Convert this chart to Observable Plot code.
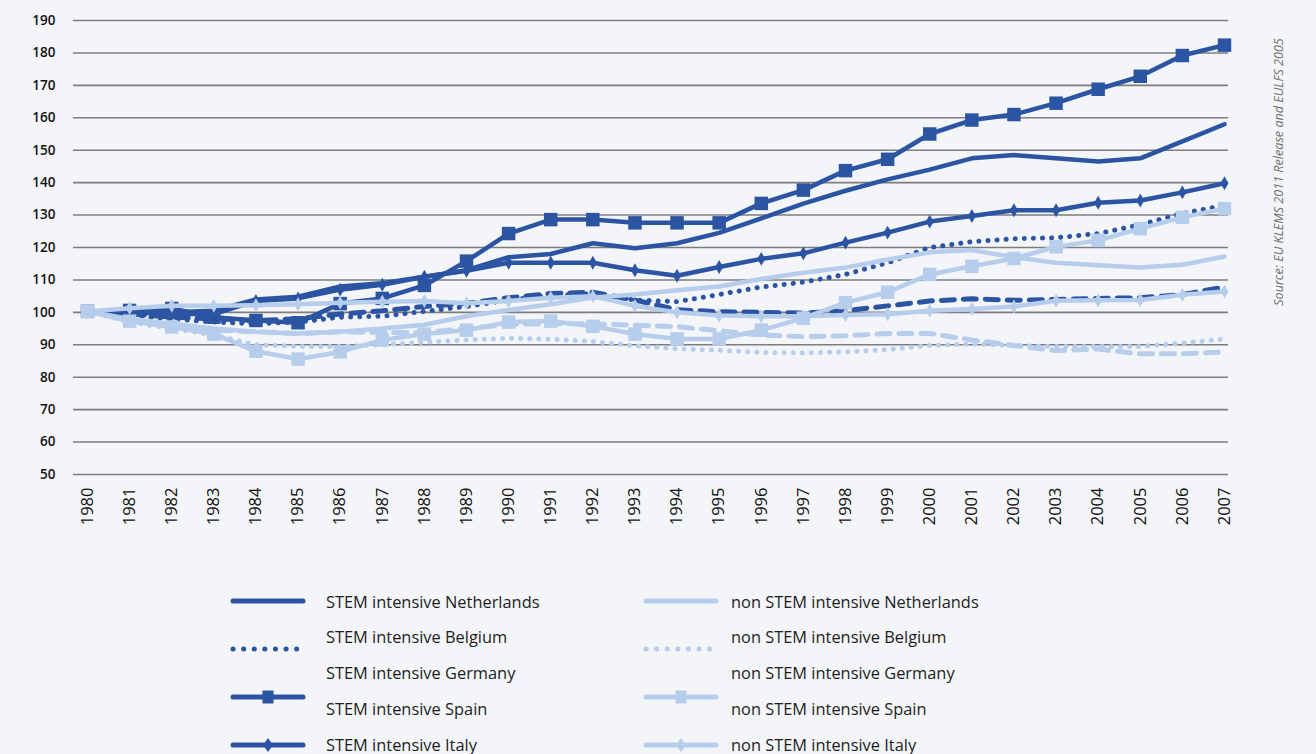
<!DOCTYPE html>
<html><head><meta charset="utf-8">
<script src="https://cdn.jsdelivr.net/npm/d3@7"></script>
<script src="https://cdn.jsdelivr.net/npm/@observablehq/plot@0.6"></script>
<style>
html,body{margin:0;padding:0;background:#f4f5f9;}
#wrap{position:relative;width:1316px;height:754px;overflow:hidden;background:#f4f5f9;font-family:"Open Sans",Lato,sans-serif;}
#chart{position:absolute;left:0;top:0;}
.lg{position:absolute;font-size:16.4px;color:#1d1d1d;white-space:nowrap;transform:translateY(-50%);}
.sym{position:absolute;}
#source{position:absolute;left:1278px;top:172px;transform:translate(-50%,-50%) rotate(-90deg);font-size:12.6px;font-style:italic;color:#6f6f6f;white-space:nowrap;}
</style></head><body><div id="wrap"><div id="chart"></div><div id="source">Source: EU KLEMS 2011 Release and EULFS 2005</div></div>
<script>
const years = [1980,1981,1982,1983,1984,1985,1986,1987,1988,1989,1990,1991,1992,1993,1994,1995,1996,1997,1998,1999,2000,2001,2002,2003,2004,2005,2006,2007];
const yTicks = [50,60,70,80,90,100,110,120,130,140,150,160,170,180,190];

const stemNetherlands = [100.3,100,100,100.5,104,104.8,108,109,111,113,117,118,121.3,119.8,121.3,124.5,129,133.5,137.5,141,144,147.5,148.5,147.5,146.5,147.5,152.7,158];
const stemBelgium     = [100.3,99,98,97,96.5,97,98.5,98.8,100.3,101.8,103.8,105.3,105.7,103.8,103.3,105.5,107.8,109.3,111.7,115.3,120,121.8,122.7,123,124.3,127,130.5,133];
const stemGermany     = [100.3,99.5,98.5,98,97.5,98,99.5,100.5,101.8,102.8,104.5,105.8,106.2,103.8,100.8,100.2,100,99.8,100.5,102,103.5,104.2,103.7,104,104.3,104.5,105.5,107.8];
const stemSpain       = [100.3,100.6,101.2,98.5,97.5,96.8,102.7,104.3,108.3,115.8,124.3,128.6,128.6,127.6,127.6,127.6,133.6,137.7,143.7,147.2,155,159.3,161,164.5,168.8,172.8,179.2,182.4];
const stemItaly       = [100.3,100,99.5,99.5,103.5,104.3,107,108.5,111,112.8,115.3,115.3,115.3,113,111.3,114,116.5,118.2,121.5,124.6,128,129.7,131.5,131.5,133.8,134.5,137,139.8];

const nonNetherlands  = [100.3,98,96.5,95,94,93.5,94,95,96.2,98.8,100.7,102.5,104.6,105.5,106.8,108,110.3,112.2,113.8,116.3,118.5,119.2,117,115.3,114.5,113.8,114.7,117.2];
const nonBelgium      = [100.3,97,95,93,90,89.5,89.5,90,90.8,91.5,92,91.7,91,89.7,88.8,88.3,87.6,87.5,87.8,88.5,89.8,90.2,89.8,89.5,89.5,89.5,90.5,91.8];
const nonGermany      = [100.3,97.5,96,94.5,94,93.5,94,93.8,93.8,95,96.3,96.5,96.5,96,95.6,94.3,93,92.5,92.8,93.5,93.5,91.5,89.8,88.2,88.7,87.2,87.2,87.8];
const nonSpain        = [100.3,97.3,95.5,93.3,88,85.6,87.8,91.5,93.3,94.5,97,97.3,95.7,93.3,91.8,91.8,94.5,98.2,103,106.2,111.7,114.2,116.6,120.2,122.2,125.8,129.3,132];
const nonItaly        = [100.3,101.3,102,102,102.2,102.5,103,103.3,103.5,102.8,103.5,104.5,105,102,100,99,98.8,98.8,99.2,99.4,100.5,101,101.8,103.6,103.7,103.8,105.4,106.4];

const DARK = "#2b54a3", LIGHT = "#b6cdec";
const seriesNames = ["Netherlands","Belgium","Germany","Spain","Italy"];
const stemValues = [stemNetherlands, stemBelgium, stemGermany, stemSpain, stemItaly];
const nonValues = [nonNetherlands, nonBelgium, nonGermany, nonSpain, nonItaly];
const styles = {
  Netherlands: {dash: null, marker: null},
  Belgium: {dash: "0.1 9", marker: null},
  Germany: {dash: "13 9", marker: null},
  Spain: {dash: null, marker: "square"},
  Italy: {dash: null, marker: "diamond"}
};

function rows(vals){ return years.map((y,i)=>({year:y, value:vals[i]})); }

const marks = [Plot.ruleY(yTicks, {stroke:"#7d7d7d", strokeWidth:1.6})];
function addSeries(valsList, color){
  seriesNames.forEach((name,k)=>{
    const st = styles[name];
    const data = rows(valsList[k]);
    const opts = {x:"year", y:"value", stroke:color, strokeWidth: st.dash ? 5 : 4.5, strokeLinecap:"round", strokeLinejoin:"round"};
    if (st.dash) opts.strokeDasharray = st.dash;
    marks.push(Plot.line(data, opts));
    if (st.marker === "square") marks.push(Plot.dot(data, {x:"year", y:"value", symbol:"square", r:7.6, fill:color, stroke:"none"}));
    if (st.marker === "diamond") marks.push(Plot.dot(data, {x:"year", y:"value", symbol:"diamond", r:4.2, fill:color, stroke:"none"}));
  });
}
addSeries(stemValues, DARK);
addSeries(nonValues, LIGHT);

marks.push(Plot.axisY({ticks: yTicks, label:null, tickSize:0, tickPadding:18, fontSize:13.5, fontWeight:600, fill:"#111"}));
marks.push(Plot.axisX({ticks: years, label:null, tickFormat: d=>String(d), tickRotate:-90, tickSize:0, tickPadding:13, fontSize:16.5, fontWeight:500, fill:"#111"}));

const H = 545;
const chart = Plot.plot({
  width:1316, height:H,
  marginLeft:73, marginRight:88, marginTop:20, marginBottom:H-474,
  style:{background:"transparent", fontFamily:"'Open Sans', sans-serif", overflow:"visible"},
  x:{domain:[1980,2007], range:[87,1224]},
  y:{domain:[50,190]},
  marks
});
document.getElementById("chart").appendChild(chart);

// Legend
const wrap = document.getElementById("wrap");
const labelRows = [601,636,672,708,744];
const symbolRows = [601,649,697,745];
const symbolKinds = ["Netherlands","Belgium","Spain","Italy"];
function addLabel(text, x, y){
  const d = document.createElement("div"); d.className="lg"; d.textContent=text;
  d.style.left = x+"px"; d.style.top = y+"px"; wrap.appendChild(d);
}
function addSymbol(kind, color, x, y){
  const ns="http://www.w3.org/2000/svg";
  const s=document.createElementNS(ns,"svg"); s.setAttribute("width",80); s.setAttribute("height",24);
  s.setAttribute("class","sym"); s.style.left=(x-5)+"px"; s.style.top=(y-12)+"px";
  const st = styles[kind];
  const l=document.createElementNS(ns,"line");
  l.setAttribute("x1",5); l.setAttribute("x2",75); l.setAttribute("y1",12); l.setAttribute("y2",12);
  l.setAttribute("stroke",color); l.setAttribute("stroke-width",5); l.setAttribute("stroke-linecap","round");
  if (st.dash) l.setAttribute("stroke-dasharray", "0.1 10.5");
  s.appendChild(l);
  if (st.marker==="square"){ const r=document.createElementNS(ns,"rect"); r.setAttribute("x",34.5); r.setAttribute("y",5.5); r.setAttribute("width",11); r.setAttribute("height",13); r.setAttribute("fill",color); s.appendChild(r);}
  if (st.marker==="diamond"){ const p=document.createElementNS(ns,"path"); p.setAttribute("d","M40 5 L45 12 L40 19 L35 12Z"); p.setAttribute("fill",color); s.appendChild(p);}
  wrap.appendChild(s);
}
seriesNames.forEach((n,i)=>{
  addLabel("STEM intensive "+n, 326, labelRows[i]);
  addLabel("non STEM intensive "+n, 731, labelRows[i]);
});
symbolKinds.forEach((k,i)=>{
  addSymbol(k, DARK, 233, symbolRows[i]);
  addSymbol(k, LIGHT, 646, symbolRows[i]);
});
</script></body></html>
